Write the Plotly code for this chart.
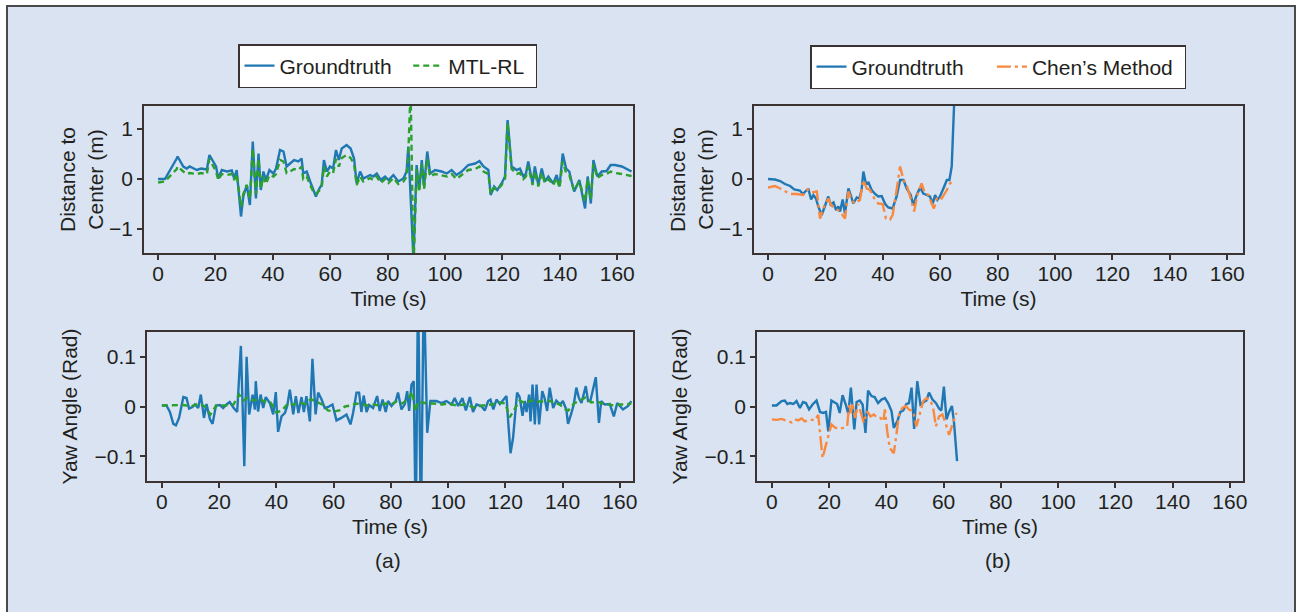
import plotly.graph_objects as go

W, H = 1301, 612

# ---------------- data ----------------
# (a) top: distance to center (m)
t_a_dist_gt = [0, 2.4, 6.5, 6.8, 8.8, 10, 11, 13.5, 15, 17, 17.9, 19.3, 20.2, 21, 22.2, 24, 25.7, 26.5, 27.4,
               28.9, 29.7, 30.9, 32, 33, 34.1, 35, 35.8, 36.7, 37.6, 38.8, 40.2, 41.1, 42.5, 43.7, 44.8, 46,
               47.4, 48.9, 50, 50.6, 51.8, 53, 54.1, 55, 56.2, 57, 57.8, 58.8, 59.9, 61, 62, 63, 64, 65.7,
               67.1, 68.3, 69.2, 70.4, 71.5, 73.9, 75, 76.2, 77.6, 79.1, 80.3, 82, 83.7, 85.5, 86.6, 87.2,
               89, 90.1, 91, 91.9, 92.7, 93.8, 94.8, 96.5, 98.8, 100.6, 102.3, 104, 105.8, 108.1, 110.5,
               112, 113.4, 115.1, 115.9, 117.1, 118.2, 119.7, 120.9, 121.8, 123.2, 125, 126.1, 127.3, 128.2,
               129, 130.5, 131.3, 132.5, 133.7, 134.8, 136, 137.7, 138.9, 139.9, 141, 142.2, 143.3, 144.1,
               145, 146.8, 148.8, 149.7, 150.8, 151.7, 153.1, 154.6, 156.3, 157.7, 159.2, 161.6, 163.9, 165]
v_a_dist_gt = [0, 0, 0.41, 0.45, 0.25, 0.21, 0.25, 0.18, 0.21, 0.19, 0.48, 0.35, 0.25, 0.01, 0.18, 0.15, 0.17, 0.01, 0.18,
               -0.75, -0.35, -0.12, -0.52, 0.75, -0.39, 0.51, -0.22, 0.15, -0.02, 0.18, 0.11, 0.21, 0.58, 0.55, 0.25, 0.31,
               0.38, 0.35, 0.41, 0.11, 0.15, -0.05, -0.22, -0.35, -0.19, -0.12, 0.38, 0.15, 0.25, 0.21, 0.58, 0.38, 0.61, 0.68,
               0.61, 0.41, -0.09, 0.15, 0.01, 0.08, 0.05, 0.11, -0.02, 0.05, -0.02, 0.08, -0.05, 0.01, 0.15, 0.65,
               -1.6, 0.28, -0.22, 0.38, -0.15, 0.55, 0.11, 0.18, 0.15, 0.11, 0.18, 0.08, 0.15, 0.28, 0.31,
               0.36, 0.25, 0.18, -0.32, -0.15, -0.22, -0.09, 0.05, 1.18, 0.25, 0.18, 0.21, 0.05, 0.11,
               0.35, -0.09, 0.25, -0.12, 0.21, -0.05, 0.05, -0.09, 0.08, -0.15, 0.51, 0.21, 0.15, -0.05,
               -0.25, -0.02, -0.59, 0.05, -0.49, 0.38, 0.05, 0.15, 0.16, 0.28, 0.28, 0.25, 0.18, 0.15]

t_a_dist_mtl = [0, 2.4, 6.5, 6.8, 8.8, 10, 11, 13.5, 15, 17, 17.9, 19.3, 20.2, 21, 22.2, 24, 25.7, 26.5, 27.4,
                28.9, 29.7, 30.9, 32, 33, 34.1, 35, 35.8, 36.7, 37.6, 38.8, 40.2, 41.1, 42.5, 43.7, 44.8, 46,
                47.4, 48.9, 50, 50.6, 51.8, 53, 54.1, 55, 56.2, 57, 57.8, 58.8, 59.9, 61, 62, 63, 64, 65.7,
                67.1, 68.3, 69.2, 70.4, 71.5, 73.9, 75, 76.2, 77.6, 79.1, 80.3, 82, 83.7, 85.5, 86.6, 87.2, 88,
                89, 90.1, 91, 91.9, 92.7, 93.8, 94.8, 96.5, 98.8, 100.6, 102.3, 104, 105.8, 108.1, 110.5,
                112, 113.4, 115.1, 115.9, 117.1, 118.2, 119.7, 120.9, 121.8, 123.2, 125, 126.1, 127.3, 128.2,
                129, 130.5, 131.3, 132.5, 133.7, 134.8, 136, 137.7, 138.9, 139.9, 141, 142.2, 143.3, 144.1,
                145, 146.8, 148.8, 149.7, 150.8, 151.7, 153.1, 154.6, 156.3, 157.7, 159.2, 161.6, 163.9, 165]
v_a_dist_mtl = [-0.07, -0.05, 0.2, 0.25, 0.15, 0.1, 0.12, 0.1, 0.12, 0.1, 0.4, 0.25, 0.15, -0.02, 0.1, 0.08, 0.1, -0.02, 0.1,
                -0.55, -0.3, -0.12, -0.4, 0.6, -0.3, 0.4, -0.2, 0.05, -0.1, 0.08, 0.05, 0.1, 0.38, 0.35, 0.12, 0.15,
                0.2, 0.18, 0.25, 0.0, 0.05, -0.12, -0.25, -0.3, -0.22, -0.18, 0.25, 0.05, 0.15, 0.12, 0.4, 0.25, 0.42, 0.48,
                0.42, 0.3, -0.12, 0.05, -0.05, 0.02, -0.02, 0.05, -0.08, 0.0, -0.08, 0.02, -0.1, -0.05, 0.05, 0.5, 1.8,
                -1.8, 0.2, -0.25, 0.3, -0.2, 0.4, 0.05, 0.1, 0.08, 0.05, 0.1, 0.0, 0.08, 0.18, 0.2,
                0.25, 0.15, 0.1, -0.3, -0.18, -0.22, -0.12, 0.0, 1.12, 0.2, 0.1, 0.12, 0.0, 0.05,
                0.25, -0.12, 0.15, -0.15, 0.12, -0.08, 0.0, -0.12, 0.02, -0.18, 0.35, 0.12, 0.08, -0.08,
                -0.22, -0.05, -0.45, 0.0, -0.4, 0.3, 0.02, 0.08, 0.1, 0.15, 0.12, 0.1, 0.08, 0.06]

# (a) bottom: yaw angle (rad)
t_a_yaw_gt = [0, 1.6, 2.8, 4, 4.9, 6, 7.5, 8.6, 9.5, 10.7, 11.5, 12.7, 13.6, 14.7, 15.6, 16.8, 17.7, 18.9, 20.3,
              21.4, 22.6, 23.7, 25.1, 26.3, 27.6, 28.8, 29.6, 30.5, 31.7, 32.5, 32.8, 33.6, 34.5, 35.4, 36.3,
              37.7, 38.9, 39.8, 40.6, 41.8, 43, 43.8, 44.7, 45.9, 46.8, 47.7, 48.8, 49.6, 50.5, 51.7, 52.6,
              53.7, 54.6, 55.8, 56.9, 58.1, 59.6, 61, 62.7, 64.5, 65.9, 66.8, 68, 68.9, 69.7, 70.5, 71.5,
              72.4, 73.8, 75.2, 76.1, 77.1, 78.2, 79, 80.2, 81.7, 82.5, 83.7, 84.9, 85.7, 86.4, 87.2, 88,
              88.7, 89.5, 90.5, 91.5, 92.7, 93.8, 95.9, 97.7, 99.4, 101.2, 102.3, 103.5, 105, 106.2, 107.6,
              108.7, 109.9, 111.6, 112.8, 114, 114.8, 115.8, 116.9, 118.1, 119.2, 120.4, 120.9, 121.8, 122.7,
              123.3, 124.1, 125, 126, 126.8, 127.4, 128.3, 128.8, 129.5, 130.3, 130.9, 131.8, 132.9, 133.7,
              134.6, 135.5, 136.7, 137.8, 139.2, 140.1, 141.3, 141.9, 143.1, 143.9, 144.8, 145.7, 146.6,
              148.1, 148.9, 149.7, 151.6, 152.7, 153.5, 154.7, 156.5, 157.9, 159.1, 160, 161.1, 162.9, 164]
v_a_yaw_gt = [0.002, 0.002, -0.011, -0.035, -0.038, -0.023, 0.019, 0.017, -0.004, -0.001, 0.004, -0.003, 0.024, -0.023,
              0.005, -0.026, -0.035, 0.002, 0.003, -0.003, 0.004, 0.009, -0.003, -0.011, 0.122, -0.12, 0.1, -0.016,
              0.024, -0.006, 0.051, -0.01, 0.024, -0.003, 0.019, 0.007, -0.016, 0.029, -0.051, -0.02, -0.013, 0.001,
              0.034, -0.016, 0.021, -0.013, 0.019, -0.011, 0.021, -0.03, 0.096, -0.016, 0.028, 0.014, -0.003, -0.001,
              0.004, -0.028, -0.023, -0.016, -0.036, -0.013, 0.028, 0.028, -0.011, 0.022, -0.011, 0.003, -0.003,
              0.021, -0.009, 0.014, -0.011, 0.011, 0.001, 0.011, 0.028, -0.006, 0.005, 0.031, -0.009, 0.044, 0.051,
              -0.25, 0.25, -0.25, 0.25, -0.053, 0.011, 0.011, 0.007, 0.011, 0.004, 0.017, 0.001, 0.017, -0.008, 0.019,
              -0.011, 0.004, 0.001, -0.008, 0.011, 0.014, -0.006, 0.014, 0.005, 0.012, 0.021, -0.023, -0.094, -0.063,
              -0.016, 0.028, 0.019, -0.019, 0.011, -0.011, 0.024, -0.03, 0.044, -0.036, 0.044, -0.036, 0.031, 0.017,
              -0.009, 0.038, -0.003, 0.012, 0.004, 0.011, -0.006, -0.035, -0.013, 0.004, 0.038, 0.017, 0.007,
              0.041, 0.011, 0.011, 0.059, -0.033, 0.011, 0.004, 0.005, -0.02, 0.007, 0.001, -0.006, 0.001, 0.011]

t_a_yaw_mtl = [0, 5, 7.5, 10, 13, 15, 17, 19, 22, 25, 27, 28.5, 30, 32, 34, 36, 38, 40, 42, 44, 46, 48, 50, 52, 54,
               56, 58, 60, 62, 64, 66, 68, 70, 72, 74, 76, 78, 80, 82, 84, 86, 87.5, 88.5, 89.5, 91, 93, 95, 98,
               100, 103, 106, 109, 112, 115, 118, 120, 121.5, 123, 125, 127, 129, 131, 133, 135, 137, 139, 141,
               142, 144, 146, 148, 150, 152, 154, 156, 158, 160, 162, 164]
v_a_yaw_mtl = [0.002, 0.002, 0.003, 0.0, 0.006, 0.0, -0.016, 0.002, 0.002, 0.004, 0.024, 0.012, 0.018, 0.012, 0.015,
               0.01, 0.008, -0.012, -0.008, 0.006, 0.004, 0.008, 0.005, 0.015, 0.01, 0.004, -0.008, -0.01, -0.008,
               0.0, 0.002, 0.006, 0.004, 0.002, 0.004, 0.002, 0.006, 0.004, 0.01, 0.006, 0.015, 0.03, -0.01, 0.01,
               0.008, 0.006, 0.006, 0.004, 0.006, 0.002, 0.004, -0.002, 0.002, 0.004, 0.008, 0.006, -0.022, -0.008,
               0.012, 0.006, 0.012, 0.01, 0.01, 0.012, 0.008, 0.004, -0.006, -0.008, 0.006, 0.012, 0.018, 0.008,
               0.01, 0.006, 0.004, 0.002, 0.004, 0.004, 0.006]

# (b) top: distance to center (m)
t_b_dist_gt = [0, 2.4, 4.2, 5.9, 7.7, 9.1, 11.1, 12.1, 13.5, 14.1, 15, 15.8, 16.7, 17.5, 18.7, 19.9, 21, 21.8, 22.8,
               23.7, 24.5, 25.1, 26, 26.8, 28, 28.8, 29.7, 30.9, 31.8, 32.6, 33.2, 34.1, 35, 36.1, 37.3, 38.4,
               39.6, 40.8, 41.9, 43.4, 44.8, 46, 47.2, 48.3, 49.7, 50.6, 51.8, 53, 54.1, 55.3, 56.4, 57.4, 58.2,
               59, 59.9, 61.1, 62.3, 63.2, 64, 64.8, 65.3]
v_b_dist_gt = [0, -0.01, -0.04, -0.1, -0.14, -0.21, -0.23, -0.3, -0.22, -0.21, -0.41, -0.32, -0.39, -0.55, -0.72, -0.54,
               -0.35, -0.51, -0.47, -0.62, -0.55, -0.65, -0.41, -0.69, -0.19, -0.32, -0.49, -0.37, -0.39, -0.22, 0.15,
               -0.09, -0.07, -0.22, -0.3, -0.35, -0.34, -0.5, -0.57, -0.59, -0.35, -0.02, -0.02, -0.19, -0.32, -0.52,
               -0.32, -0.17, -0.29, -0.32, -0.35, -0.49, -0.32, -0.42, -0.35, -0.19, -0.02, -0.02, 0.25, 1.45, 3.0]

t_b_dist_chen = [0, 2.4, 4.2, 5.9, 7.7, 10, 12.3, 13.7, 15.2, 17, 18.1, 19.5, 21, 22.2, 23.7, 25.1, 26.8, 28, 29.1,
                 30.3, 32, 33.2, 34.4, 35.5, 37.3, 38.4, 39.9, 41.1, 42.5, 43.4, 44.8, 46, 47.2, 48.3, 49.5, 50.9,
                 52, 53.5, 54.7, 55.9, 57, 57.8, 59, 60.5, 62.3, 63.4, 64.6]
v_b_dist_chen = [-0.17, -0.14, -0.19, -0.25, -0.3, -0.3, -0.32, -0.21, -0.27, -0.25, -0.79, -0.55, -0.39, -0.54, -0.59,
                 -0.65, -0.79, -0.25, -0.42, -0.49, -0.42, -0.02, -0.19, -0.22, -0.42, -0.49, -0.5, -0.79, -0.81,
                 -0.72, -0.22, 0.25, -0.02, -0.12, -0.35, -0.65, -0.32, -0.09, -0.29, -0.32, -0.49, -0.59, -0.35,
                 -0.39, -0.22, -0.09, -0.02]

# (b) bottom: yaw angle (rad)
t_b_yaw_gt = [0, 1.6, 3.4, 4.5, 5.4, 6.3, 7.5, 8.6, 9.8, 10.9, 11.9, 13, 14.2, 15.6, 16.8, 17.9, 18.9, 19.7, 20.8, 22,
              22.8, 23.7, 24.7, 25.8, 26.7, 27.6, 28.8, 29.6, 30.7, 31.7, 32.7, 33.6, 34.8, 35.9, 37.1, 38.3, 39.5,
              40.6, 41.8, 42.6, 43.8, 44.9, 45.9, 47, 47.9, 48.8, 49.7, 50.8, 51.9, 53.1, 54, 54.9, 56.1, 57.3,
              58.4, 59.2, 60.1, 61, 61.9, 62.9, 63.6, 64.7]
v_b_yaw_gt = [0.002, 0.002, 0.011, 0.012, 0.005, 0.007, 0.005, 0.011, -0.003, 0.009, 0.007, -0.006, 0.004, 0.012,
              -0.011, -0.013, -0.011, -0.05, 0.012, 0.007, 0.005, -0.013, 0.023, 0.004, -0.015, 0.038, -0.046, 0.009,
              0.012, 0.004, -0.053, 0.032, 0.021, 0.019, 0.007, 0.014, 0.017, 0.007, -0.009, -0.043, -0.03, -0.011,
              -0.008, 0.005, 0.007, 0.038, -0.045, 0.051, 0.004, 0.009, 0.012, 0.028, 0.014, 0.007, -0.004, -0.008,
              0.04, -0.026, -0.011, 0.001, -0.03, -0.11]

t_b_yaw_chen = [0, 1.6, 3.4, 5.1, 6.9, 8, 9.2, 10.4, 11.5, 13.3, 15, 16.2, 17, 17.7, 18.9, 19.7, 20.8, 22, 23.2, 24.9,
                26.3, 27, 27.6, 28.2, 29, 30.2, 31, 32.1, 33.3, 34.5, 35.6, 36.8, 37.9, 38.9, 39.5, 40.3, 41.2, 42.6,
                43.5, 44.5, 45.6, 46.8, 47.9, 49.4, 50.5, 51.7, 52.9, 54, 55.2, 56.3, 57.3, 58.4, 59.6, 60.8, 61.9,
                63.1, 64.5]
v_b_yaw_chen = [-0.026, -0.027, -0.025, -0.028, -0.032, -0.026, -0.028, -0.024, -0.03, -0.026, -0.028, -0.017, -0.057,
                -0.104, -0.077, -0.057, -0.036, -0.042, -0.045, -0.043, -0.04, 0.004, -0.013, 0.007, -0.023, 0.005,
                -0.013, -0.033, -0.01, -0.02, -0.016, -0.023, -0.023, -0.03, -0.006, -0.05, -0.084, -0.094, -0.057,
                -0.013, -0.003, 0.001, -0.006, -0.01, -0.04, -0.015, 0.011, 0.017, 0.014, -0.001, -0.04, -0.02,
                -0.016, -0.036, -0.057, -0.036, -0.013]

x_ticks = [0, 20, 40, 60, 80, 100, 120, 140, 160]
dist_ticks = [-1, 0, 1]
yaw_ticks = [-0.1, 0, 0.1]

# ---------------- styling ----------------
BLUE = "#1f77b4"
GREEN = "#2ca02c"
ORANGE = "#f8893f"
TXT = "#231f20"
FRAME = "#3b3331"
FONT = "Liberation Sans, Arial, sans-serif"
FS = 21
LW = 2.4
NB = "\u00a0"

fig = go.Figure()

def px_x(p):
    return p / W

def px_y(p):
    return 1 - p / H

dom = {
    "a_top": ([px_x(144), px_x(633)], [px_y(253), px_y(106)]),
    "a_bot": ([px_x(147), px_x(633)], [px_y(481), px_y(332)]),
    "b_top": ([px_x(754), px_x(1243)], [px_y(253), px_y(106)]),
    "b_bot": ([px_x(757), px_x(1243)], [px_y(481), px_y(332)]),
}

axes_ids = {"a_top": ("x", "y"), "a_bot": ("x2", "y2"), "b_top": ("x3", "y3"), "b_bot": ("x4", "y4")}

def add(panel, t, v, name, color, dash, legend, show):
    xa, ya = axes_ids[panel]
    fig.add_trace(go.Scatter(x=t, y=v, mode="lines", name=name,
                             line=dict(color=color, width=LW, dash=dash),
                             xaxis=xa, yaxis=ya, legend=legend, showlegend=show))

DASH_G = "6px,4px"
DASH_O = "14px,4px,3px,4px"
add("a_top", t_a_dist_gt, v_a_dist_gt, "Groundtruth" + NB * 2, BLUE, "solid", "legend", True)
add("a_top", t_a_dist_mtl, v_a_dist_mtl, "MTL-RL" + NB, GREEN, DASH_G, "legend", True)
add("a_bot", t_a_yaw_gt, v_a_yaw_gt, "Groundtruth", BLUE, "solid", "legend", False)
add("a_bot", t_a_yaw_mtl, v_a_yaw_mtl, "MTL-RL", GREEN, DASH_G, "legend", False)
add("b_top", t_b_dist_gt, v_b_dist_gt, "Groundtruth" + NB * 4, BLUE, "solid", "legend2", True)
add("b_top", t_b_dist_chen, v_b_dist_chen, "Chen’s Method" + NB, ORANGE, DASH_O, "legend2", True)
add("b_bot", t_b_yaw_gt, v_b_yaw_gt, "Groundtruth", BLUE, "solid", "legend2", False)
add("b_bot", t_b_yaw_chen, v_b_yaw_chen, "Chen’s Method", ORANGE, DASH_O, "legend2", False)

def xaxis(panel, rng):
    return dict(domain=dom[panel][0], range=rng, tickvals=x_ticks, anchor=axes_ids[panel][1],
                showline=True, mirror=True, linecolor=FRAME, linewidth=1.5,
                ticks="outside", ticklen=5, tickwidth=1.5, tickcolor=FRAME,
                ticklabelstandoff=-4,
                showgrid=False, zeroline=False, automargin=False,
                tickfont=dict(size=FS, color=TXT, family=FONT),
                title=dict(text="Time (s)", font=dict(size=FS, color=TXT, family=FONT), standoff=7))

def yaxis(panel, rng, ticks, title, standoff):
    return dict(domain=dom[panel][1], range=rng, tickvals=ticks, anchor=axes_ids[panel][0],
                showline=True, mirror=True, linecolor=FRAME, linewidth=1.5,
                ticks="outside", ticklen=5, tickwidth=1.5, tickcolor=FRAME,
                showgrid=False, zeroline=False, automargin=False,
                tickfont=dict(size=FS, color=TXT, family=FONT),
                title=dict(text=title, font=dict(size=FS, color=TXT, family=FONT), standoff=standoff))

top_x = [-4.9, 165.5]
bot_x = [-5.2, 164.6]
dist_r = [-1.48, 1.46]
yaw_r = [-0.15, 0.15]
dist_title = "Distance to<br>Center (m)"
yaw_title = "Yaw Angle (Rad)"

legend_common = dict(orientation="h", xanchor="left", yanchor="top", bgcolor="white",
                     bordercolor=FRAME, borderwidth=1.5,
                     font=dict(size=FS, color=TXT, family=FONT))

fig.update_layout(
    width=W, height=H, margin=dict(l=0, r=0, t=0, b=0),
    paper_bgcolor="white", plot_bgcolor="#fdfdfe",
    font=dict(family=FONT, size=FS, color=TXT),
    xaxis=xaxis("a_top", top_x), yaxis=yaxis("a_top", dist_r, dist_ticks, dist_title, 0),
    xaxis2=xaxis("a_bot", bot_x), yaxis2=yaxis("a_bot", yaw_r, yaw_ticks, yaw_title, 11),
    xaxis3=xaxis("b_top", top_x), yaxis3=yaxis("b_top", dist_r, dist_ticks, dist_title, 0),
    xaxis4=xaxis("b_bot", bot_x), yaxis4=yaxis("b_bot", yaw_r, yaw_ticks, yaw_title, 11),
    legend=dict(x=px_x(238), y=px_y(44), **legend_common),
    legend2=dict(x=px_x(810), y=px_y(45), **legend_common),
    shapes=[dict(type="rect", xref="paper", yref="paper", layer="below",
                 x0=px_x(7), x1=px_x(1295), y0=-0.05, y1=px_y(6),
                 fillcolor="#d9e3f1", line=dict(color="#4a4a4a", width=2))],
    annotations=[
        dict(text="(a)", x=px_x(388), y=px_y(560), xref="paper", yref="paper", showarrow=False,
             xanchor="center", yanchor="middle", font=dict(size=FS, color=TXT, family=FONT)),
        dict(text="(b)", x=px_x(998), y=px_y(560), xref="paper", yref="paper", showarrow=False,
             xanchor="center", yanchor="middle", font=dict(size=FS, color=TXT, family=FONT)),
    ],
)

fig.write_html("out.html", config={"displayModeBar": False},
               post_script="document.body.style.margin='0';document.body.style.overflow='hidden';")
